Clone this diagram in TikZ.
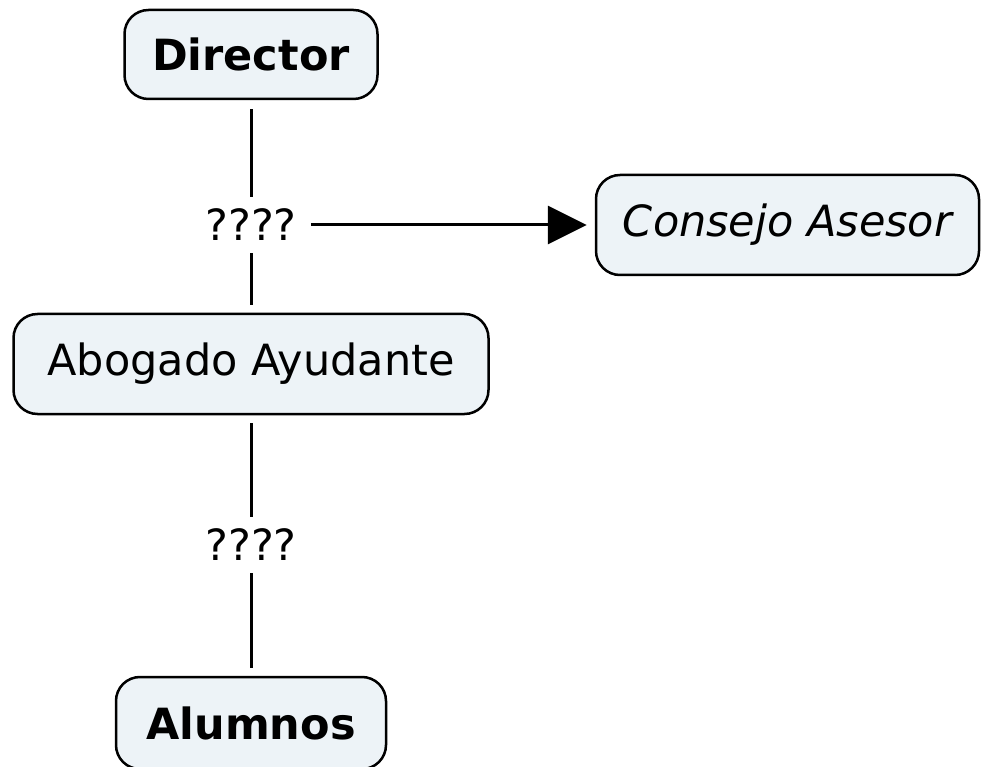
\documentclass[tikz,border=0pt]{standalone}
\usepackage{fontspec}
\setmainfont{DejaVu Sans}
\usetikzlibrary{positioning}
\usetikzlibrary{arrows.meta}
\definecolor{conceptfill}{RGB}{237,243,247}

\begin{document}
\begin{tikzpicture}[x=1pt,y=-1pt,
        concept/.style={rectangle, draw, line width=2.5pt, rounded corners=24pt,
                        fill=conceptfill, inner sep=0pt, font=\fontsize{43}{50}\selectfont},
        linkphrase/.style={inner xsep=14pt, inner ysep=0pt, minimum height=56pt,
                           font=\fontsize{43}{50}\selectfont},
        link/.style={line width=3pt, shorten >=8pt}]
    \useasboundingbox (0,0) rectangle (988,767);

    \node[concept, minimum width=253pt, minimum height=89pt] (director) at (251,54.5) {\bfseries Director};
    \node[linkphrase] (q1) at (251,225) {????};
    \node[concept, minimum width=383pt, minimum height=100pt] (consejo) at (787.5,225) {\itshape Consejo Asesor};
    \node[concept, minimum width=475pt, minimum height=100pt] (abogado) at (251,364) {Abogado Ayudante};
    \node[linkphrase] (q2) at (251,545) {????};
    \node[concept, minimum width=270pt, minimum height=92pt] (alumnos) at (251,723) {\bfseries Alumnos};

    \draw[link, shorten >=9pt] (q1) -- (director);
    \draw[link] (q1) -- (abogado);
    \draw[link, -{Triangle[length=39pt,width=38pt]}] (q1) -- (consejo);
    \draw[link] (q2) -- (abogado);
    \draw[link] (q2) -- (alumnos);
\end{tikzpicture}
\end{document}
